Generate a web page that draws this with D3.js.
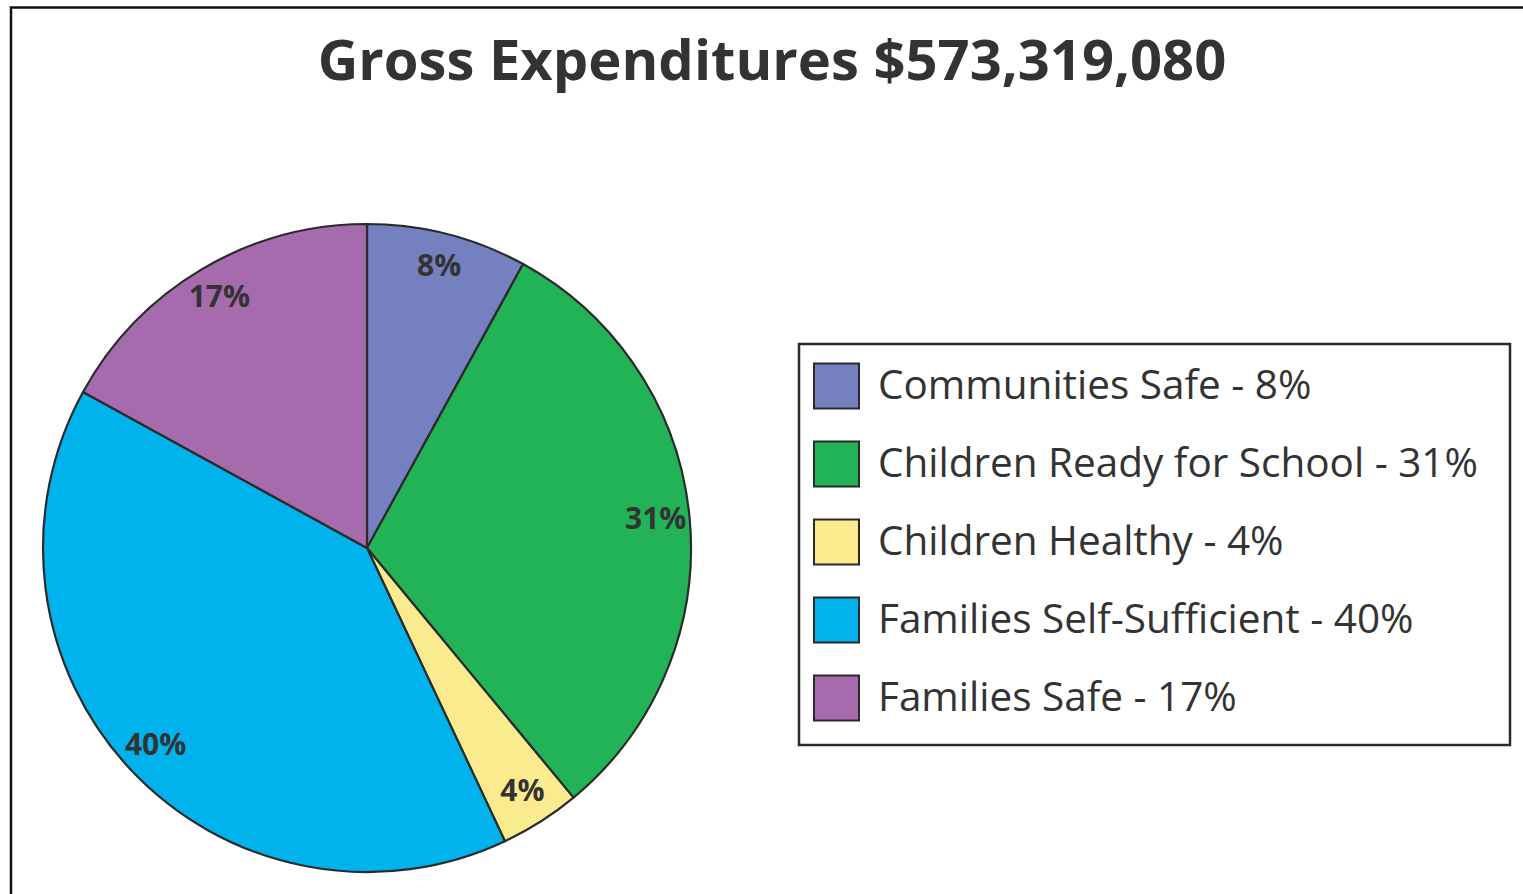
<!DOCTYPE html>
<html>
<head>
<meta charset="utf-8">
<script src="https://cdn.jsdelivr.net/npm/d3@7"></script>
<style>
  html, body { margin: 0; padding: 0; background: #fff; }
  svg { display: block; }
</style>
</head>
<body>
<svg id="chart" width="1523" height="894"></svg>
<script>
// Expenditure shares by outcome area
const categories = ["Communities Safe", "Children Ready for School", "Children Healthy", "Families Self-Sufficient", "Families Safe"];
const shares = [8, 31, 4, 40, 17];
const colors = ["#7580c0", "#22b357", "#fbeb8f", "#00b3ec", "#a66bad"];
const titleText = "Gross Expenditures $573,319,080";

const svg = d3.select("#chart");
const ink = "#333333";

// outer frame (runs off the right and bottom edges)
svg.append("rect")
  .attr("x", 11).attr("y", 7.5)
  .attr("width", 1530).attr("height", 900)
  .attr("fill", "none").attr("stroke", "#111").attr("stroke-width", 2.5);

// title, sized to its target width
const title = svg.append("text")
  .attr("x", 772).attr("y", 80)
  .attr("text-anchor", "middle")
  .attr("font-family", "'Open Sans', sans-serif")
  .attr("font-weight", 700)
  .attr("font-size", 56)
  .attr("fill", ink)
  .text(titleText);
{
  const w = title.node().getComputedTextLength();
  title.attr("font-size", 56 * 909 / w);
}

// pie
const cx = 367, cy = 548, radius = 324;
const pie = d3.pie().sort(null).value(d => d.value);
const data = categories.map((c, i) => ({ name: c, value: shares[i], color: colors[i] }));
const arcs = pie(data);
const arc = d3.arc().innerRadius(0).outerRadius(radius);
const labelArc = d3.arc().innerRadius(290).outerRadius(290);

const g = svg.append("g").attr("transform", `translate(${cx},${cy})`);
g.selectAll("path.slice")
  .data(arcs)
  .join("path")
  .attr("class", "slice")
  .attr("d", arc)
  .attr("fill", d => d.data.color)
  .attr("stroke", "#2a2a2a")
  .attr("stroke-width", 2.2)
  .attr("stroke-linejoin", "round");

g.selectAll("text.pct")
  .data(arcs)
  .join("text")
  .attr("class", "pct")
  .attr("transform", d => `translate(${labelArc.centroid(d)})`)
  .attr("text-anchor", "middle")
  .attr("dy", "0.28em")
  .attr("font-family", "'Open Sans', sans-serif")
  .attr("font-weight", 700)
  .attr("font-size", 30)
  .attr("fill", ink)
  .text(d => d.data.value + "%");

// legend
const legend = svg.append("g");
legend.append("rect")
  .attr("x", 799).attr("y", 344)
  .attr("width", 711).attr("height", 401)
  .attr("fill", "#fff").attr("stroke", "#2a2a2a").attr("stroke-width", 2.5);

const rowY = d3.scalePoint().domain(categories).range([386, 698]);
const rows = legend.selectAll("g.row")
  .data(data)
  .join("g")
  .attr("class", "row")
  .attr("transform", d => `translate(0,${rowY(d.name)})`);

rows.append("rect")
  .attr("x", 814).attr("y", -22.5)
  .attr("width", 45).attr("height", 45)
  .attr("fill", d => d.color)
  .attr("stroke", "#2a2a2a").attr("stroke-width", 2);

const legendText = rows.append("text")
  .attr("x", 878).attr("y", 0)
  .attr("dy", "0.33em")
  .attr("font-family", "'Open Sans', sans-serif")
  .attr("font-size", 40)
  .attr("fill", ink)
  .text(d => `${d.name} - ${d.value}%`);
{
  const w = legendText.filter((d, i) => i === 1).node().getComputedTextLength();
  legendText.attr("font-size", 40 * 600 / w);
}
</script>
</body>
</html>
